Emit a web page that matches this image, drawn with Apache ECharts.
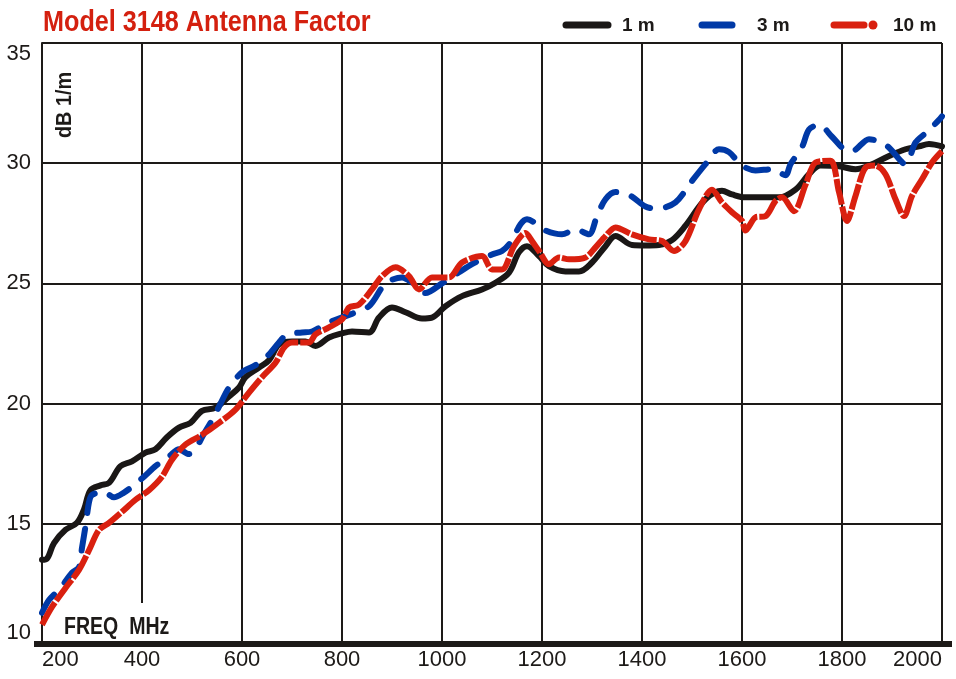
<!DOCTYPE html>
<html>
<head>
<meta charset="utf-8">
<script src="https://cdn.jsdelivr.net/npm/echarts@6/dist/echarts.min.js"></script>
<style>
html,body{margin:0;padding:0;background:#fff;}
#chart{width:956px;height:679px;}
</style>
</head>
<body>
<div id="chart"></div>
<script>
// ---- data (frequency MHz, antenna factor dB 1/m) ----
const titleText = 'Model 3148 Antenna Factor';
const xTicks = [200, 400, 600, 800, 1000, 1200, 1400, 1600, 1800, 2000];
const yTicks = [10, 15, 20, 25, 30, 35];

const f1m = [200,210,224,247,270,284,297,317,334,357,380,407,427,450,474,497,520,547,574,594,607,634,654,674,700,727,747,774,800,820,854,874,900,927,960,980,1007,1040,1080,1107,1134,1154,1170,1194,1214,1247,1274,1300,1327,1347,1380,1407,1434,1460,1487,1527,1560,1580,1607,1647,1674,1707,1734,1757,1794,1827,1854,1894,1927,1954,1974,2000];
const db1m = [13.5,13.55,14.2,14.75,15.04,15.6,16.4,16.6,16.7,17.4,17.6,17.96,18.1,18.6,19.0,19.2,19.7,19.83,20.3,20.67,21.1,21.5,21.8,22.46,22.58,22.58,22.4,22.75,22.92,23.0,22.96,23.58,24.0,23.8,23.54,23.58,24.05,24.47,24.75,25.03,25.45,26.3,26.55,26.14,25.72,25.5,25.5,25.87,26.55,26.97,26.6,26.58,26.6,26.8,27.4,28.5,28.85,28.7,28.58,28.58,28.58,28.9,29.54,29.9,29.87,29.75,29.9,30.3,30.58,30.7,30.8,30.7];

const f3m = [200,214,237,260,274,280,287,294,300,324,344,364,380,404,427,454,474,494,507,520,544,557,574,600,627,650,674,690,720,740,774,807,854,887,920,940,967,1000,1034,1060,1100,1120,1137,1157,1170,1207,1240,1267,1294,1310,1327,1347,1377,1407,1430,1467,1500,1527,1554,1574,1600,1627,1660,1687,1697,1720,1734,1754,1780,1804,1820,1854,1890,1927,1947,1970,1994,2000];
const db3m = [11.3,11.83,12.33,12.96,13.2,14.0,14.9,15.9,16.2,16.33,16.1,16.3,16.54,16.96,17.4,17.8,18.1,17.9,18.1,18.6,19.46,20.0,20.67,21.3,21.6,21.96,22.54,22.88,22.96,23.0,23.38,23.64,24.05,25.0,25.25,25.04,24.6,25.0,25.46,25.8,26.2,26.35,26.7,27.46,27.67,27.2,27.04,27.25,27.04,27.8,28.5,28.8,28.64,28.2,28.1,28.37,29.26,29.96,30.58,30.46,29.9,29.7,29.75,29.5,29.96,30.67,31.4,31.6,31.1,30.58,30.5,31.0,30.72,29.96,30.86,31.3,31.8,31.95];

const f10m = [200,220,247,274,294,314,334,360,387,414,440,460,487,520,554,587,614,640,667,684,700,734,747,774,800,814,834,860,880,907,934,954,980,1014,1040,1080,1100,1120,1144,1167,1180,1194,1214,1234,1254,1287,1307,1327,1347,1380,1414,1440,1464,1487,1514,1540,1560,1580,1600,1607,1627,1647,1667,1680,1704,1727,1747,1777,1794,1810,1827,1847,1867,1887,1907,1924,1940,1960,1980,2000];
const db10m = [10.8,11.54,12.33,13.08,13.9,14.75,15.04,15.5,16.0,16.4,16.96,17.67,18.3,18.7,19.2,19.75,20.46,21.1,21.7,22.33,22.54,22.54,22.88,23.17,23.5,24.0,24.12,24.75,25.3,25.67,25.3,24.75,25.25,25.25,25.87,26.14,25.58,25.58,26.55,27.1,26.76,26.35,25.8,26.08,26.0,26.08,26.5,26.97,27.33,27.04,26.83,26.76,26.35,26.76,28.08,28.9,28.37,27.96,27.6,27.2,27.75,27.8,28.43,28.58,28.0,29.1,30.03,30.1,28.8,27.6,28.64,29.82,29.9,29.54,28.5,27.8,28.64,29.33,30.03,30.5];

const seriesNames = ['1 m', '3 m', '10 m'];
const xAxisName = 'FREQ  MHz';
const yAxisName = 'dB 1/m';

// ---- styles ----
const INK = '#1d1a18';
const BLACK = '#1a1716';
const BLUE = '#0039a6';
const RED = '#d9200f';
const TITLE_RED = '#d4200f';
const SANS = "'Liberation Sans',Arial,sans-serif";

const pairs = (xs, ys) => xs.map((x, i) => [x, ys[i]]);

const chart = echarts.init(document.getElementById('chart'), null, {renderer: 'canvas'});

const option = {
  backgroundColor: '#ffffff',
  animation: false,
  grid: {left: 42, right: 14, top: 43, bottom: 35, containLabel: false},
  xAxis: {
    type: 'value',
    min: xTicks[0], max: xTicks[xTicks.length - 1], interval: 200,
    axisLine: {show: true, onZero: false, lineStyle: {color: INK, width: 6}},
    axisTick: {show: false},
    splitLine: {show: true, lineStyle: {color: INK, width: 2}},
    axisLabel: {
      color: INK, fontFamily: SANS, fontSize: 22, margin: 5,
      formatter: v => String(v),
      alignMinLabel: 'left', alignMaxLabel: 'right'
    }
  },
  yAxis: {
    type: 'value',
    min: yTicks[0], max: yTicks[yTicks.length - 1], interval: 5,
    axisLine: {show: true, lineStyle: {color: INK, width: 2}},
    axisTick: {show: false},
    splitLine: {show: true, lineStyle: {color: INK, width: 2}},
    axisLabel: {
      color: INK, fontFamily: SANS, fontSize: 22, margin: 11,
      formatter: v => String(v),
      verticalAlignMinLabel: 'bottom', verticalAlignMaxLabel: 'top'
    }
  },
  series: [
    {
      name: seriesNames[0], type: 'line', data: pairs(f1m, db1m),
      showSymbol: false, smooth: 0.35, z: 3,
      lineStyle: {color: BLACK, width: 6, cap: 'round', join: 'round'}
    },
    {
      name: seriesNames[1], type: 'line', data: pairs(f3m, db3m),
      showSymbol: false, smooth: 0.3, z: 4,
      lineStyle: {color: BLUE, width: 6, type: [22, 16], cap: 'round', join: 'round'}
    },
    {
      name: seriesNames[2], type: 'line', data: pairs(f10m, db10m),
      showSymbol: false, smooth: 0.3, z: 5,
      lineStyle: {color: RED, width: 6, type: [26, 2], cap: 'butt', join: 'round'}
    }
  ],
  graphic: [
    // title (condensed look)
    {type: 'text', z: 60, x: 43, y: 8, scaleX: 0.84,
      style: {text: titleText, fill: TITLE_RED, font: "bold 30px " + SANS}},
    // heavy bottom rule extends slightly past the frame
    {type: 'line', z: 40, shape: {x1: 34, y1: 644, x2: 952, y2: 644},
      style: {stroke: INK, lineWidth: 6}},
    // gap in the 400 MHz grid line behind the axis caption
    {type: 'rect', z: 50, shape: {x: 138, y: 603, width: 10, height: 38}, style: {fill: '#fff'}},
    {type: 'text', z: 51, x: 64, y: 616, scaleX: 0.85,
      style: {text: xAxisName, fill: INK, font: "bold 23px " + SANS}},
    {type: 'text', z: 51, rotation: Math.PI / 2, x: 54, y: 138, scaleX: 0.9,
      style: {text: yAxisName, fill: INK, font: "bold 22px " + SANS}},
    // legend
    {type: 'line', z: 60, shape: {x1: 566, y1: 25, x2: 608, y2: 25},
      style: {stroke: BLACK, lineWidth: 7, lineCap: 'round'}},
    {type: 'text', z: 60, x: 622, y: 16,
      style: {text: seriesNames[0], fill: INK, font: "bold 19px " + SANS}},
    {type: 'line', z: 60, shape: {x1: 702, y1: 25, x2: 732, y2: 25},
      style: {stroke: BLUE, lineWidth: 7, lineCap: 'round'}},
    {type: 'text', z: 60, x: 757, y: 16,
      style: {text: seriesNames[1], fill: INK, font: "bold 19px " + SANS}},
    {type: 'line', z: 60, shape: {x1: 834, y1: 25, x2: 864, y2: 25},
      style: {stroke: RED, lineWidth: 7, lineCap: 'round'}},
    {type: 'circle', z: 60, shape: {cx: 873, cy: 25, r: 4.5}, style: {fill: RED}},
    {type: 'text', z: 60, x: 893, y: 16,
      style: {text: seriesNames[2], fill: INK, font: "bold 19px " + SANS}}
  ]
};
chart.setOption(option);
</script>
</body>
</html>
